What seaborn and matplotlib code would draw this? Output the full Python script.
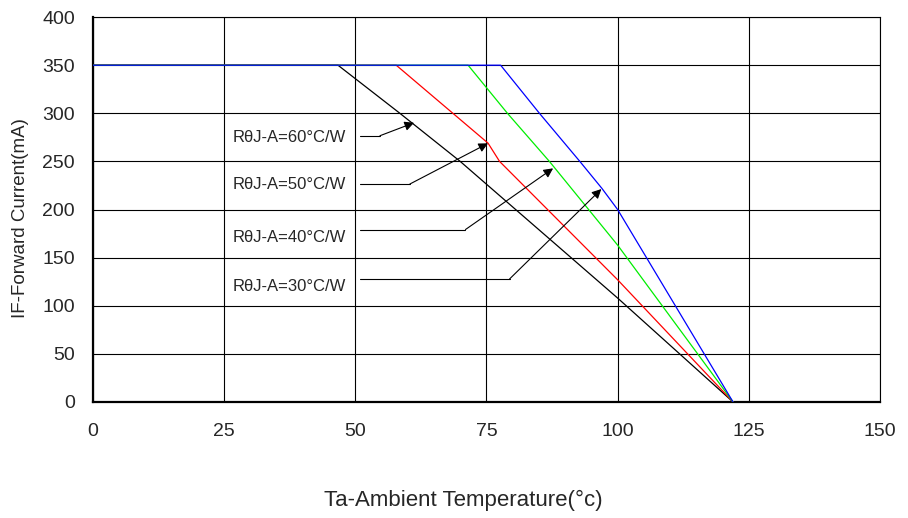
import pandas as pd
import seaborn as sns
import matplotlib.pyplot as plt

# derating curves
rth_labels = ["60", "50", "40", "30"]
temp_60 = [0, 46.7, 58.5, 70, 100, 122]
curr_60 = [350, 350, 300, 250, 108, 0]
temp_50 = [0, 57.8, 75.3, 77.5, 100, 122]
curr_50 = [350, 350, 269, 250, 127, 0]
temp_40 = [0, 71.5, 79, 87, 100, 122]
curr_40 = [350, 350, 300, 250, 163, 0]
temp_30 = [0, 77.7, 85.1, 92.8, 97, 100, 122]
curr_30 = [350, 350, 300, 250, 222, 200, 0]
line_colors = ["black", "red", "#00ee00", "blue"]

# label / leader line positions (data units)
label_y = [275, 226, 171, 120]
leader_y = [276.7, 226.5, 179.2, 127.8]
leader_knee_x = [54.7, 60.4, 71.0, 79.4]
arrow_tip = [(61.2, 290.2), (75.3, 268.8), (87.7, 242.8), (96.9, 221.3)]

x_ticks = [0, 25, 50, 75, 100, 125, 150]
y_ticks = [0, 50, 100, 150, 200, 250, 300, 350, 400]


def build_frame():
    temps = [temp_60, temp_50, temp_40, temp_30]
    currs = [curr_60, curr_50, curr_40, curr_30]
    rows = []
    for lab, t, c in zip(rth_labels, temps, currs):
        for i, (x, y) in enumerate(zip(t, c)):
            rows.append({"curve": lab, "order": i, "temp": x, "current": y})
    return pd.DataFrame(rows)


df = build_frame()

sns.set_style("white")
plt.rcParams["font.family"] = ["Liberation Sans", "DejaVu Sans"]

fig = plt.figure(figsize=(9.08, 5.18), dpi=100)
ax = fig.add_axes([0.1024, 0.224, 0.8667, 0.743])

ax.set_xlim(0, 150)
ax.set_ylim(0, 400)
ax.set_xticks(x_ticks)
ax.set_yticks(y_ticks)
ax.grid(True, color="black", linewidth=0.8)
ax.set_axisbelow(True)

sns.lineplot(data=df, x="temp", y="current", hue="curve", units="curve",
             estimator=None, sort=False, palette=dict(zip(rth_labels, line_colors)),
             linewidth=0.9, legend=False, ax=ax, zorder=3)

for lab, ly, hy, kx, tip in zip(rth_labels, label_y, leader_y, leader_knee_x, arrow_tip):
    ax.text(26.7, ly, f"R\u03b8J-A={lab}\u00b0C/W", fontsize=12, va="center", ha="left")
    ax.plot([50.9, kx], [hy, hy], color="black", linewidth=0.8, zorder=4)
    ax.annotate("", xy=tip, xytext=(kx, hy),
                arrowprops=dict(arrowstyle="-|>", color="black", lw=0.8,
                                mutation_scale=14, shrinkA=0, shrinkB=0),
                zorder=4)

for side in ["left", "bottom"]:
    ax.spines[side].set_linewidth(1.6)
    ax.spines[side].set_color("black")
for side in ["right", "top"]:
    ax.spines[side].set_linewidth(0.8)
    ax.spines[side].set_color("black")

ax.tick_params(axis="both", length=0, labelsize=14)
ax.tick_params(axis="x", pad=15)
ax.tick_params(axis="y", pad=13)
ax.set_xlabel("Ta-Ambient Temperature(\u00b0c)", fontsize=16, va="center")
ax.xaxis.set_label_coords(0.470, -0.257)
ax.set_ylabel("IF-Forward Current(mA)", fontsize=13.5, va="center", ha="center")
ax.yaxis.set_label_coords(-0.0925, 0.477)

fig.savefig("out.png", dpi=100)
